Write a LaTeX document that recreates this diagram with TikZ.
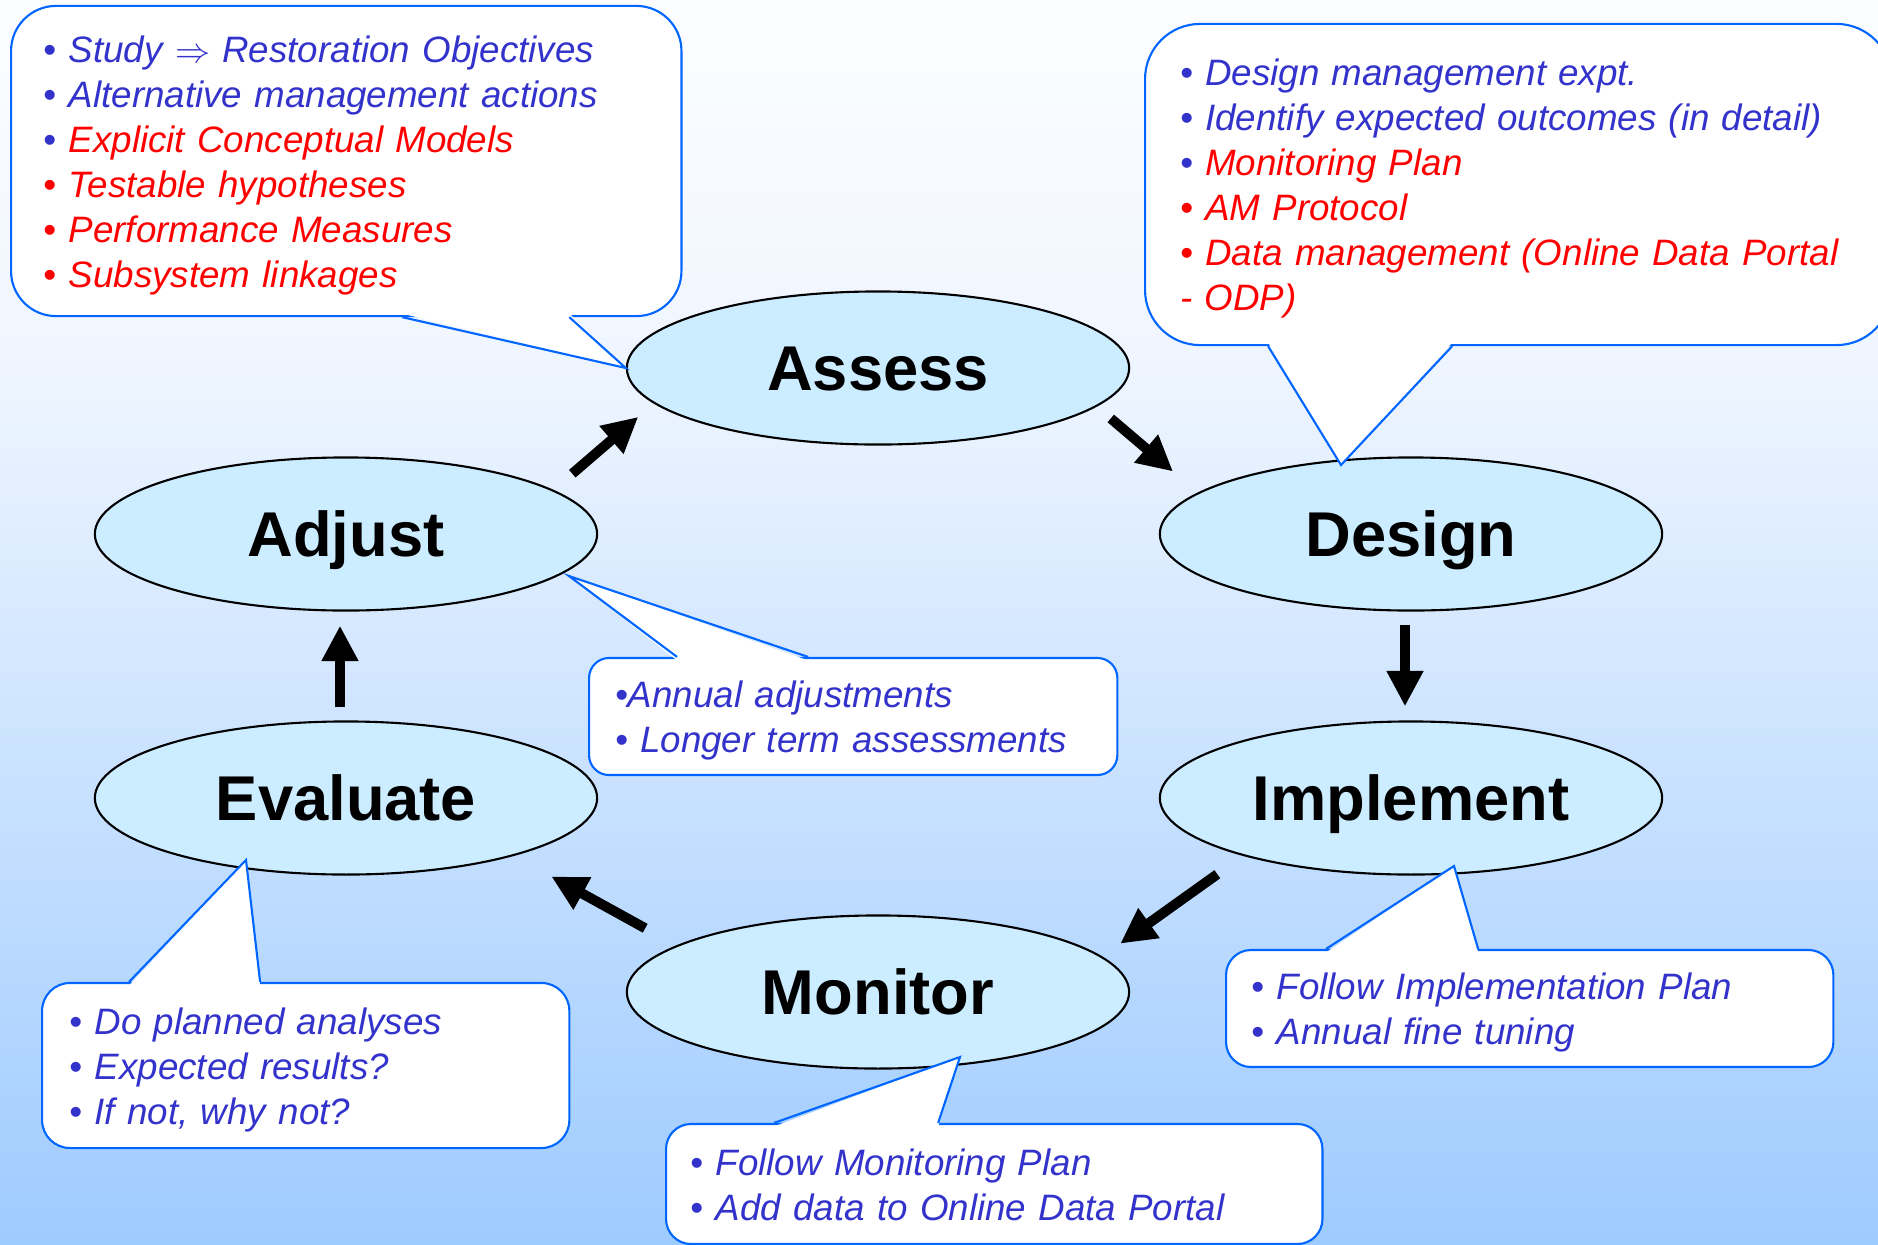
\documentclass[tikz,border=0pt]{standalone}
\usepackage{fontspec}
\setmainfont{Liberation Sans}
\usetikzlibrary{shapes.geometric,arrows.meta}

\definecolor{textblue}{RGB}{51,51,204}
\definecolor{textred}{RGB}{255,0,0}
\definecolor{lineblue}{RGB}{0,102,255}
\definecolor{stagecyan}{RGB}{204,236,255}
\definecolor{bgtop}{RGB}{252,253,255}
\definecolor{bgmid}{RGB}{240,246,255}
\definecolor{bgbot}{RGB}{158,203,255}

\begin{document}
\begin{tikzpicture}[x=0.01cm, y=-0.01cm,
    stage/.style={ellipse, draw, line width=0.6pt, fill=stagecyan, minimum width=5.02cm, minimum height=1.53cm,
        inner sep=0pt, text height=12.9pt, text depth=0pt, font=\fontsize{18}{20}\selectfont\bfseries},
    flow/.style={line width=2.85pt, -{Triangle[length=3.54mm, width=3.45mm]}},
    note/.style={draw=lineblue, fill=white, line width=0.6pt, text=textblue, align=left, anchor=west,
        text height=10pt, font=\fontsize{10.45}{12.8}\selectfont\itshape},
    pointer/.style={draw=lineblue, line width=0.6pt, line join=miter}]
    \useasboundingbox (0,0) rectangle (1878,1245);
    \shade[top color=bgtop, bottom color=bgmid] (0,0) rectangle (1878,351);
    \shade[top color=bgmid, bottom color=bgbot] (0,350) rectangle (1878,1245);

    \node[stage] (assess) at (878,368) {Assess};
    \node[stage] (adjust) at (346,534) {Adjust};
    \node[stage] (design) at (1411,534) {Design};
    \node[stage] (evaluate) at (346,798) {Evaluate};
    \node[stage] (implement) at (1411,798) {Implement};
    \node[stage] (monitor) at (878,992) {Monitor};

    \draw[flow, shorten <=0.248cm, shorten >=0.205cm] (adjust.12.9) -- (assess.189.4);
    \draw[flow, shorten <=0.183cm, shorten >=0.325cm] (assess.350.9) -- (design.169);
    \draw[flow, shorten <=0.13cm, shorten >=0.14cm] ([xshift=-0.06cm]design.south) -- ([xshift=-0.06cm]implement.north);
    \draw[flow, shorten <=0.315cm, shorten >=0.221cm] (implement.199.8) -- (monitor.9.5);
    \draw[flow, shorten <=0.355cm, shorten >=0.426cm] (monitor.167.5) -- (evaluate.341.6);
    \draw[flow, shorten <=0.13cm, shorten >=0.14cm] ([xshift=-0.06cm]evaluate.north) -- ([xshift=-0.06cm]adjust.south);

    \node[note, rounded corners=0.45cm, minimum width=6.7cm, minimum height=3.1cm, inner xsep=0.326cm, text width=6.048cm]
        (assessnote) at (10,161) {%
        • Study $\Rightarrow$ Restoration Objectives\\
        • Alternative management actions\\
        • \textcolor{textred}{Explicit Conceptual Models}\\
        \textcolor{textred}{• Testable hypotheses}\\
        \textcolor{textred}{• Performance Measures}\\
        \textcolor{textred}{• Subsystem linkages}};
    \node[note, rounded corners=0.55cm, minimum width=7.46cm, minimum height=3.21cm, inner xsep=0.35cm, text width=6.76cm]
        (designnote) at (1144,184.5) {%
        • Design management expt.\\
        • Identify expected outcomes (in detail)\\
        • \textcolor{textred}{Monitoring Plan}\\
        \textcolor{textred}{• AM Protocol}\\
        \textcolor{textred}{• Data management (Online Data Portal}\\
        \textcolor{textred}{- ODP)}};
    \node[note, rounded corners=0.2cm, minimum width=5.28cm, minimum height=1.17cm, inner xsep=0.26cm, text width=4.76cm]
        (adjustnote) at (588,716.5) {%
        •Annual adjustments\\
        • Longer term assessments};
    \node[note, rounded corners=0.28cm, minimum width=5.27cm, minimum height=1.65cm, inner xsep=0.276cm, text width=4.718cm]
        (evaluatenote) at (41,1065.5) {%
        • Do planned analyses\\
        • Expected results?\\
        • If not, why not?};
    \node[note, rounded corners=0.25cm, minimum width=6.56cm, minimum height=1.2cm, inner xsep=0.246cm, text width=6.068cm,
        text height=8.3pt] (monitornote) at (665,1184) {%
        • Follow Monitoring Plan\\
        • Add data to Online Data Portal};
    \node[note, rounded corners=0.25cm, minimum width=6.07cm, minimum height=1.17cm, inner xsep=0.256cm, text width=5.558cm]
        (implementnote) at (1225,1008.5) {%
        • Follow Implementation Plan\\
        • Annual fine tuning};

    \fill[white] ([xshift=3.92cm,yshift=1pt]assessnote.south west) -- (assess.west) -- ([xshift=5.59cm,yshift=1pt]assessnote.south west);
    \draw[pointer] ([xshift=3.92cm]assessnote.south west) -- (assess.west) -- ([xshift=5.59cm]assessnote.south west);
    \fill[white] ([xshift=1.24cm,yshift=1pt]designnote.south west) -- ([shift={(-70,-69)}]design.center) -- ([xshift=3.08cm,yshift=1pt]designnote.south west);
    \draw[pointer] ([xshift=1.24cm]designnote.south west) -- ([shift={(-70,-69)}]design.center) -- ([xshift=3.08cm]designnote.south west);
    \fill[white] ([xshift=0.89cm,yshift=-1pt]adjustnote.north west) -- ([shift={(223,42)}]adjust.center) -- ([xshift=2.2cm,yshift=-1pt]adjustnote.north west);
    \draw[pointer] ([xshift=0.89cm]adjustnote.north west) -- ([shift={(223,42)}]adjust.center) -- ([xshift=2.2cm]adjustnote.north west);
    \fill[white] ([xshift=0.88cm,yshift=-1pt]evaluatenote.north west) -- ([shift={(-100,62)}]evaluate.center) -- ([xshift=2.19cm,yshift=-1pt]evaluatenote.north west);
    \draw[pointer] ([xshift=0.88cm]evaluatenote.north west) -- ([shift={(-100,62)}]evaluate.center) -- ([xshift=2.19cm]evaluatenote.north west);
    \fill[white] ([xshift=1.09cm,yshift=-1pt]monitornote.north west) -- ([shift={(82,65)}]monitor.center) -- ([xshift=2.73cm,yshift=-1pt]monitornote.north west);
    \draw[pointer] ([xshift=1.09cm]monitornote.north west) -- ([shift={(82,65)}]monitor.center) -- ([xshift=2.73cm]monitornote.north west);
    \fill[white] ([xshift=1.01cm,yshift=-1pt]implementnote.north west) -- ([shift={(43,68)}]implement.center) -- ([xshift=2.53cm,yshift=-1pt]implementnote.north west);
    \draw[pointer] ([xshift=1.01cm]implementnote.north west) -- ([shift={(43,68)}]implement.center) -- ([xshift=2.53cm]implementnote.north west);
\end{tikzpicture}
\end{document}
